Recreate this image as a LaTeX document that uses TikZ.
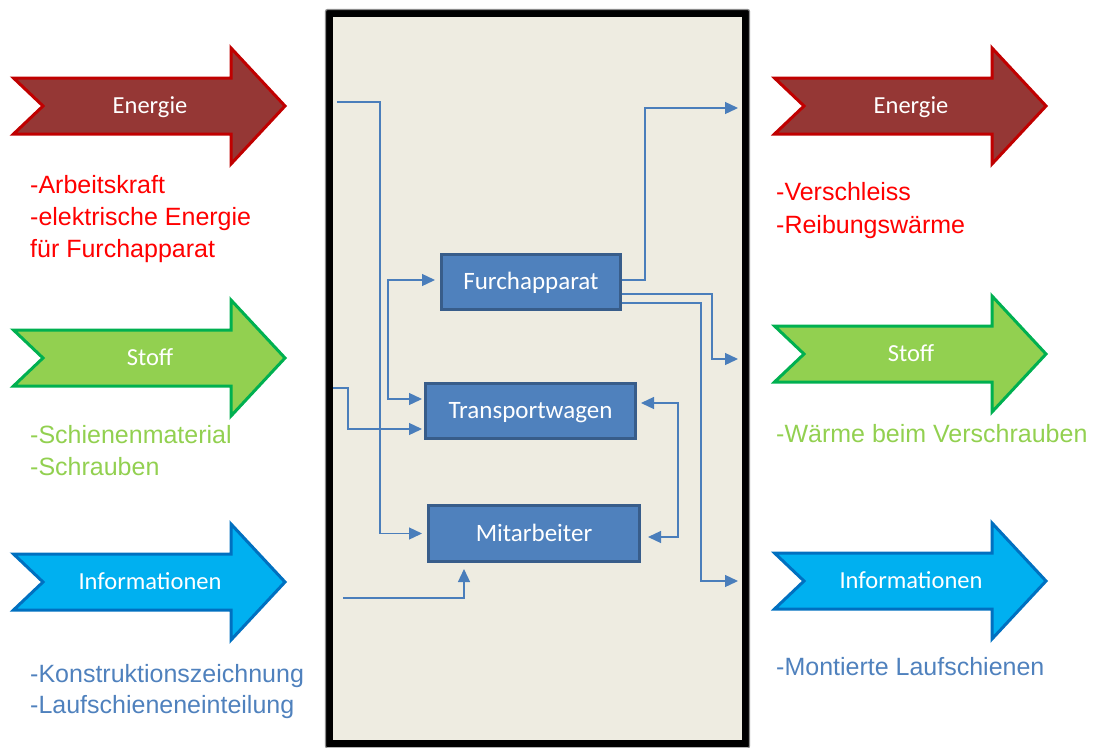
\documentclass[tikz,border=0pt]{standalone}
\usepackage{fontspec}
\setmainfont{Liberation Sans}
\newfontfamily\lblfont{Carlito}
\usetikzlibrary{arrows.meta}
\definecolor{efill}{HTML}{953735}
\definecolor{edraw}{HTML}{C00000}
\definecolor{sfill}{HTML}{92D050}
\definecolor{sdraw}{HTML}{00B050}
\definecolor{ifill}{HTML}{00B0F0}
\definecolor{idraw}{HTML}{0070C0}
\definecolor{tred}{HTML}{FF0000}
\definecolor{tgreen}{HTML}{92D050}
\definecolor{tblue}{HTML}{4F81BD}
\definecolor{framebg}{HTML}{EEECE1}
\definecolor{boxfill}{HTML}{4F81BD}
\definecolor{boxborder}{HTML}{385D8A}
\definecolor{connblue}{HTML}{4A7EBB}
\tikzset{
  flow/.style={line width=3pt, line join=miter, miter limit=10},
  lbl/.style={text=white, font=\lblfont\fontsize{24.5}{29}\selectfont, text height=15pt, text depth=0pt, inner sep=0pt},
  item/.style={anchor=base west, inner sep=0pt, font=\fontsize{25}{30}\selectfont},
  blockbox/.style={draw=boxborder, line width=3pt, fill=boxfill, text=white, font=\lblfont\fontsize{25}{30}\selectfont, text height=15pt, text depth=0pt, inner sep=0pt},
  conn/.style={draw=connblue, line width=1.3pt, >={Triangle[length=13pt,width=12pt]}},
}
\newcommand\flowarrow[4]{%
  \filldraw[flow, fill=#3, draw=#4] (#1+1.5,#2-28) -- (#1+219,#2-28) -- (#1+219,#2-58) -- (#1+273,#2) -- (#1+219,#2+58) -- (#1+219,#2+28) -- (#1+1.5,#2+28) -- (#1+31,#2) -- cycle;}
\begin{document}
\begin{tikzpicture}[x=1pt,y=-1pt]
\useasboundingbox (0,0) rectangle (1097,747);
% left arrows
\flowarrow{12}{106}{efill}{edraw}
\flowarrow{12}{358}{sfill}{sdraw}
\flowarrow{12}{582}{ifill}{idraw}
\node[lbl] (le) at (150,106) {Energie};
\node[lbl] (ls) at (150,358) {Stoff};
\node[lbl] (li) at (150,582) {Informationen};
% right arrows
\flowarrow{773}{106}{efill}{edraw}
\flowarrow{773}{354}{sfill}{sdraw}
\flowarrow{773}{581}{ifill}{idraw}
\node[lbl] (re) at (911,106) {Energie};
\node[lbl] (rs) at (911,354) {Stoff};
\node[lbl] (ri) at (911,581) {Informationen};
% lists left
\node[item, text=tred] (l1) at (30,193) {-Arbeitskraft};
\node[item, text=tred] (l2) at (30,225) {-elektrische Energie};
\node[item, text=tred] (l3) at (30,257) {für Furchapparat};
\node[item, text=tgreen] (l4) at (30,443) {-Schienenmaterial};
\node[item, text=tgreen] (l5) at (30,475) {-Schrauben};
\node[item, text=tblue] (l6) at (30,682) {-Konstruktionszeichnung};
\node[item, text=tblue] (l7) at (30,713) {-Laufschieneneinteilung};
% lists right
\node[item, text=tred] (r1) at (776,200) {-Verschleiss};
\node[item, text=tred] (r2) at (776,233) {-Reibungswärme};
\node[item, text=tgreen] (r3) at (776,442) {-Wärme beim Verschrauben};
\node[item, text=tblue] (r4) at (776,675) {-Montierte Laufschienen};
% frame
\fill[framebg] (333,17) rectangle (742,740);
\draw[line width=7pt] (329.5,13.5) rectangle (745.5,743.5);
\draw[black!45, line width=1.2pt, rounded corners=2pt] (325.5,9.5) rectangle (749.5,748);
% boxes
\node[blockbox, minimum width=179pt, minimum height=55pt] (F) at (531,282) {Furchapparat};
\node[blockbox, minimum width=210pt, minimum height=55pt] (T) at (530.5,411) {Transportwagen};
\node[blockbox, minimum width=211pt, minimum height=56pt] (M) at (534,533.5) {Mitarbeiter};
% connector ends
\coordinate (e1) at (337,102);
\coordinate (s1) at (333,388);
\coordinate (i1) at (343,598);
\coordinate (o1) at (738,108);
\coordinate (o2) at (738,359);
\coordinate (o3) at (738,581);
% connectors
\draw[conn, ->, shorten >=5pt] (e1) -- (380,102) |- (M.west);
\draw[conn, ->, shorten >=2pt] (s1) -- (348,388) |- ([yshift=-18pt]T.west);
\draw[conn, <->, shorten <=5pt, shorten >=2pt] ([yshift=2pt]F.west) -| (388,399) -- ([yshift=12pt]T.west);
\draw[conn, <->, shorten <=4pt, shorten >=7pt] ([yshift=8pt]T.east) -| (678,537) -- ([yshift=-3.5pt]M.east);
\draw[conn, ->, shorten >=6pt] (i1) -| ([xshift=-70pt]M.south);
\draw[conn, ->] ([yshift=2pt]F.east) -- (645,280) |- (o1);
\draw[conn, ->] ([yshift=-12pt]F.east) -| (712,359) -- (o2);
\draw[conn, ->] ([yshift=-21pt]F.east) -| (701,581) -- (o3);
\end{tikzpicture}
\end{document}
